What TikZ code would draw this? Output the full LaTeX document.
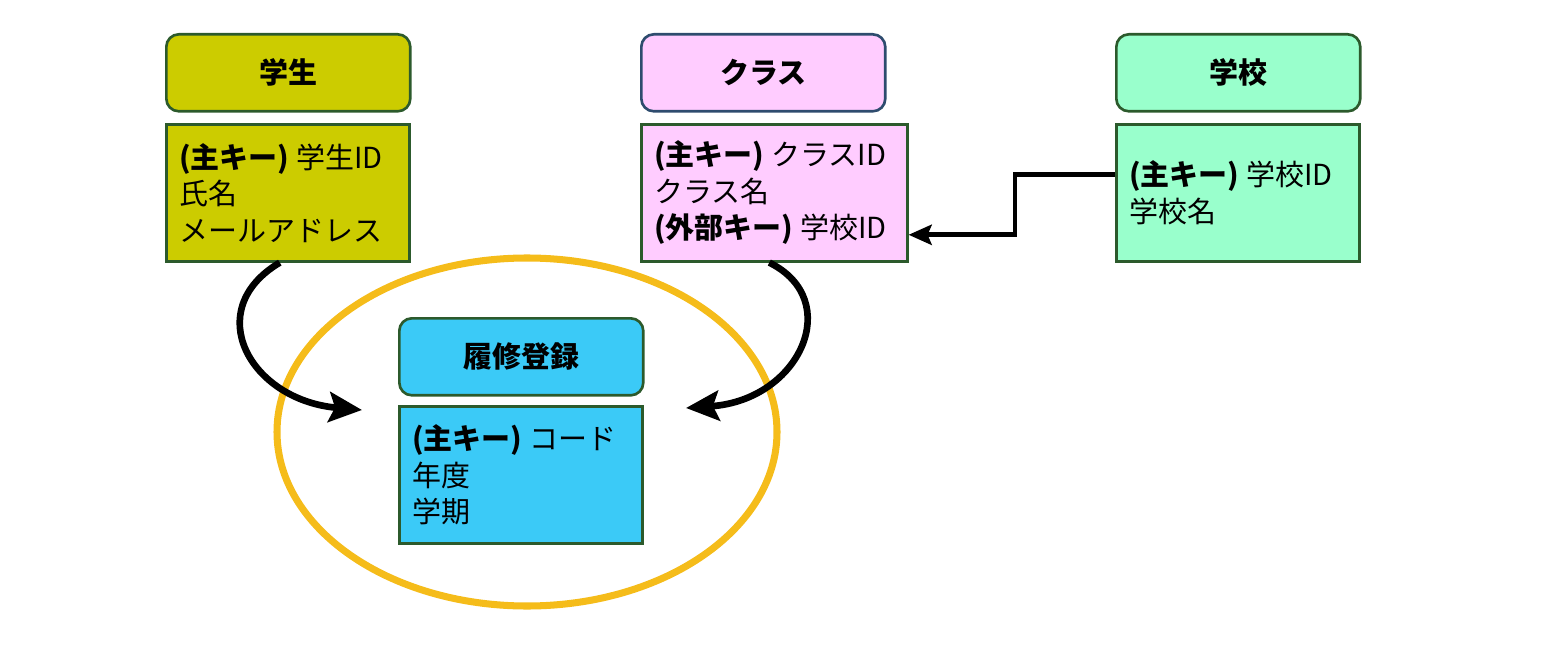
\documentclass[tikz,border=0pt]{standalone}
\usepackage{fontspec}
\setmainfont{Noto Sans CJK JP}
\usepackage{tikz}
\usetikzlibrary{arrows.meta}
\usetikzlibrary{calc}

\definecolor{gakusei}{HTML}{CCCC00}
\definecolor{kurasu}{HTML}{FFCCFF}
\definecolor{gakkou}{HTML}{99FFCC}
\definecolor{rishuu}{HTML}{3BCAF7}
\definecolor{waku}{HTML}{2C5A2C}
\definecolor{aowaku}{HTML}{2E4C6E}
\definecolor{maru}{HTML}{F5BC1A}

\tikzset{
    head/.style={draw=waku, line width=1.5pt, rounded corners=0.25cm, anchor=north west,
        minimum width=4.88cm, minimum height=1.54cm, inner sep=0pt,
        font=\fontsize{16.5}{20}\selectfont\bfseries},
    body/.style={draw=waku, line width=1.5pt, anchor=north west, align=left,
        minimum height=2.74cm, inner xsep=0.26cm, inner ysep=0pt,
        font=\fontsize{16.5}{20.8}\selectfont},
    link/.style={line width=3.8pt, -{Stealth[length=0.66cm,width=0.6cm,inset=0.12cm]}},
    elbow/.style={line width=2.8pt, -{Stealth[length=0.46cm,width=0.4cm,inset=0.08cm]}}
}

\begin{document}
\begin{tikzpicture}[x=0.02cm,y=-0.02cm]
            \useasboundingbox (0,0) rectangle (1541,672);
            % tables
            \node[head, fill=gakusei] (s-head) at (165,33) {学生};
            \node[body, fill=gakusei, text width=4.34cm] (s-body) at (165,123)
                {\textbf{(主キー)}\hspace{-0.1em} 学生ID\\氏名\\メールアドレス};
            \node[head, fill=kurasu, draw=aowaku] (c-head) at (640,33) {クラス};
            \node[body, fill=kurasu, text width=4.8cm] (c-body) at (640,123)
                {\textbf{(主キー)}\hspace{-0.1em} クラスID\\クラス名\\\textbf{(外部キー)}\hspace{-0.1em} 学校ID};
            \node[head, fill=gakkou] (k-head) at (1115,33) {学校};
            \node[body, fill=gakkou, text width=4.34cm] (k-body) at (1115,123)
                {\textbf{(主キー)}\hspace{-0.1em} 学校ID\\学校名};
            % ellipse
            \draw[maru, line width=4pt] (527,432) ellipse (250 and 174);
            \node[head, fill=rishuu] (r-head) at (398,317) {履修登録};
            \node[body, fill=rishuu, text width=4.34cm] (r-body) at (398,405)
                {\textbf{(主キー)}\hspace{-0.1em} コード\\年度\\学期};
            % arrows
            \coordinate (l-in) at (362,410);
            \coordinate (r-in) at (686,408);
            \draw[link] ($(s-body.south)+(-8,0)$) .. controls (200,310) and (250,400) .. (l-in);
            \draw[link] ($(c-body.south)+(-5,0)$) .. controls (845,300) and (800,400) .. (r-in);
            \draw[elbow] ($(k-body.west)+(0,-18)$) -- ++(-100,0) |- ($(c-body.east)+(0,42)$);
        \end{tikzpicture}
\end{document}
